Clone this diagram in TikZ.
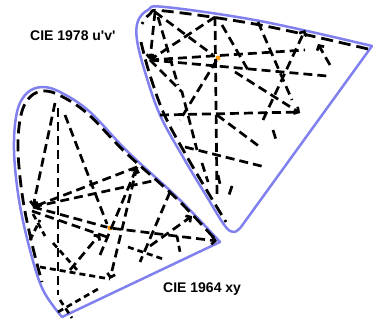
\documentclass[tikz,border=0pt]{standalone}
\usepackage{fontspec}
\setmainfont{Liberation Sans}
\usetikzlibrary{arrows.meta, positioning}
\definecolor{locusblue}{RGB}{128,128,238}
\definecolor{whiteorange}{RGB}{255,153,0}

\begin{document}
\begin{tikzpicture}[
    x=1pt, y=-1pt,
    locus/.style={draw=locusblue, line width=2.5pt, line join=round},
    rim/.style={line width=2.8pt, dash pattern=on 12pt off 6pt},
    seg/.style={line width=2.7pt, dash pattern=on 9pt off 5pt},
    short seg/.style={line width=2.7pt, dash pattern=on 6pt off 4pt},
    vec/.style={seg, -{Straight Barb[length=3.5pt, width=8pt]}},
    white point/.style={circle, fill=whiteorange, inner sep=0pt, minimum size=5pt},
    title/.style={font=\fontsize{14}{15}\selectfont\bfseries, inner sep=0pt}
]
\useasboundingbox (0,0) rectangle (373,320);

% 下图：CIE 1964 xy
\begin{scope}
    % 光谱轨迹
    \draw[locus] plot[smooth, tension=0.6] coordinates {(220,242) (180,200) (128,152) (90,112) (62,93) (43,87) (27,93) (17,112) (14,150) (19,200) (30,250) (43,290) (62,317)} -- cycle;
    \draw[rim] plot[smooth, tension=0.6] coordinates {(214,238) (176,198) (125,152) (88,114) (61,96) (44,91) (30,97) (21,115) (18,150) (23,200) (33,248) (42,282)};

    % 汇聚点
    \coordinate (xyL) at (33,207);
    \coordinate (xyT) at (137,167);
    \coordinate (xyB) at (110,279);
    \coordinate (xyR) at (217,241);
    \node[white point] (xyW) at (110,228) {};

    % 向量
    \draw[vec] (55,103) -- (xyL);
    \draw[seg] (58,108) -- (58,295);
    \draw[seg] (65,115) -- (107,224);
    \draw[vec] (xyT) -- (xyL);
    \draw[seg] (xyL) -- (157,180);
    \draw[seg] (xyL) -- (xyW);
    \draw[vec] (xyW) -- (xyR);
    \draw[seg] (32,211) -- (110,238);
    \draw[vec] (100,255) -- (xyT);
    \draw[vec] (xyT) -- (xyB);
    \draw[seg] (170,192) -- (140,262);
    \draw[vec] (150,246) -- (192,216);
    \draw[short seg] (128,247) -- (163,259);
    \draw[short seg] (177,236) -- (180,252);
    \draw[short seg] (40,267) -- (xyB);
    \draw[short seg] (53,243) -- (78,271);
    \draw[vec] (70,270) -- (100,234);
    \draw[short seg] (58,312) -- (98,289);
    \draw[short seg] (60,300) -- (72,318);
    \draw[short seg] (33,214) -- (45,236);
    \draw[short seg] (30,240) -- (40,220);
\end{scope}

% 上图：CIE 1978 u'v'
\begin{scope}
    % 光谱轨迹
    \draw[locus] plot[smooth, tension=0.6] coordinates {(372,46) (260,21) (165,7) (148,10) (138,21) (137,40) (145,72) (160,115) (183,157) (207,197) (225,226) (234,232) (241,227)} -- cycle;
    \draw[rim] plot[smooth, tension=0.6] coordinates {(368,49) (260,25) (165,11) (150,14) (142,24)};
    \draw[rim] plot[smooth, tension=0.6] coordinates {(141,42) (149,72) (164,114) (186,155) (209,194) (226,222)};

    % 汇聚点
    \coordinate (uvA) at (150,60);
    \coordinate (uvB) at (155,12);
    \coordinate (uvC) at (215,17);
    \coordinate (uvD) at (305,30);
    \coordinate (uvE) at (217,115);
    \node[white point] (uvW) at (218,58) {};

    % 向量
    \draw[vec] (uvB) -- (uvA);
    \draw[seg] (uvB) -- (213,55);
    \draw[seg] (158,17) -- (178,85);
    \draw[seg] (uvC) -- (217,195);
    \draw[vec] (uvC) -- (uvA);
    \draw[seg] (uvA) -- (305,50);
    \draw[seg] (uvA) -- (327,76);
    \draw[seg] (uvW) -- (180,120);
    \draw[seg] (uvA) -- (182,92) -- (197,150);
    \draw[seg] (160,115) -- (300,112);
    \draw[seg] (uvE) -- (260,147);
    \draw[seg] (185,147) -- (265,167);
    \draw[seg] (202,163) -- (208,182);
    \draw[seg] (218,175) -- (220,184);
    \draw[seg] (232,186) -- (229,195);
    \draw[vec] (263,120) -- (uvD);
    \draw[seg] (258,22) -- (292,100);
    \draw[seg] (222,25) -- (248,70);
    \draw[vec] (235,72) -- (300,113);
    \draw[vec] (330,65) -- (318,44);
    \draw[seg] (273,130) -- (277,143);
\end{scope}

% 标题
\node[title, anchor=base west] (uvlabel) at (30,41) {CIE 1978 u\textquotesingle v\textquotesingle};
\node[title, anchor=base west] (xylabel) at (163,293) {CIE 1964 xy};
\end{tikzpicture}
\end{document}
